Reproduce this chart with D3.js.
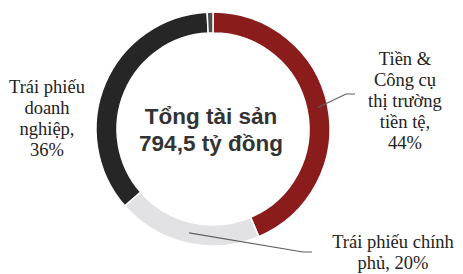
<!DOCTYPE html>
<html>
<head>
<meta charset="utf-8">
<script src="https://cdn.jsdelivr.net/npm/d3@7"></script>
<style>
  html, body { margin: 0; padding: 0; background: #fff; }
</style>
</head>
<body>
<div id="chart"></div>
<script>
// data
const categories = ['Tiền & Công cụ thị trường tiền tệ', 'Trái phiếu chính phủ', 'Trái phiếu doanh nghiệp', 'Khác'];
const shares = [43.6, 20.0, 35.6, 0.8];
const labelLines = [
    ['Tiền &', 'Công cụ', 'thị trường', 'tiền tệ,', '44%'],
    ['Trái phiếu chính', 'phủ, 20%'],
    ['Trái phiếu', 'doanh', 'nghiệp,', '36%'],
    []
];
const centerLines = ['Tổng tài sản', '794,5 tỷ đồng'];

const width = 463, height = 274;
const cx = 213, cy = 129;
const outerR = 117, innerR = 96;

const colors = d3.scaleOrdinal()
    .domain(categories)
    .range(['#8a1c1c', '#e2e2e4', '#262626', '#4e4e4e']);

const svg = d3.select('#chart')
    .append('svg')
    .attr('width', width)
    .attr('height', height);

const g = svg.append('g').attr('transform', `translate(${cx},${cy})`);

const pie = d3.pie().sort(null).value(d => d.value);
const arcs = pie(categories.map((c, i) => ({ name: c, value: shares[i], lines: labelLines[i] })));
const arc = d3.arc().innerRadius(innerR).outerRadius(outerR);

g.selectAll('.slice')
    .data(arcs)
    .join('path')
    .attr('class', 'slice')
    .attr('d', arc)
    .attr('fill', d => colors(d.data.name))
    .attr('stroke', '#fff')
    .attr('stroke-width', 1.5);

// label placement (layout only)
const labelPos = [
    { x: 405, y: 65, leader: [[346, 94], [355, 94]] },
    { x: 393, y: 248, leader: [[303, 252], [312, 252]] },
    { x: 47, y: 93, leader: null },
    null
];

const lineH = 21;
arcs.forEach((d, i) => {
    const p = labelPos[i];
    if (!p) return;
    if (p.leader) {
        const c = arc.centroid(d);
        const pts = [[cx + c[0], cy + c[1]], ...p.leader];
        svg.append('path')
            .attr('d', d3.line()(pts))
            .attr('fill', 'none')
            .attr('stroke', '#5f5f5f')
            .attr('stroke-width', 1.2);
    }
    const t = svg.append('text')
        .attr('text-anchor', 'middle')
        .attr('font-family', '"Liberation Serif", "Times New Roman", serif')
        .attr('font-size', '18.5px')
        .attr('fill', '#222');
    d.data.lines.forEach((ln, j) => {
        t.append('tspan')
            .attr('x', p.x)
            .attr('y', p.y + j * lineH)
            .text(ln);
    });
});

// centre title
const ct = svg.append('text')
    .attr('text-anchor', 'middle')
    .attr('font-family', '"Liberation Sans", Arial, sans-serif')
    .attr('font-weight', 'bold')
    .attr('font-size', '22.5px')
    .attr('fill', '#333');
centerLines.forEach((ln, j) => {
    ct.append('tspan')
        .attr('x', 211)
        .attr('y', 124 + j * 27)
        .text(ln);
});
</script>
</body>
</html>
